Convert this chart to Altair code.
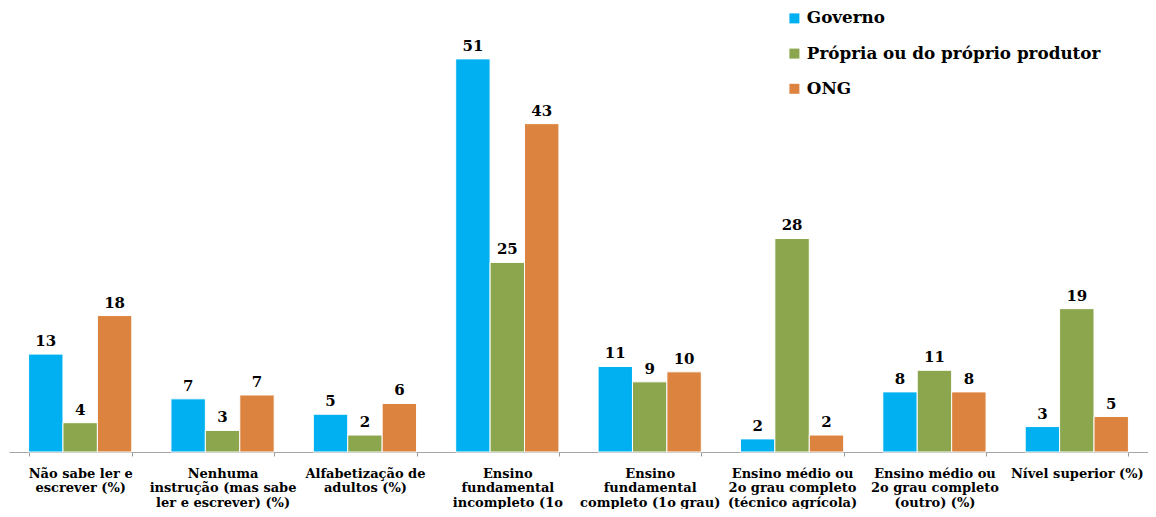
import altair as alt
import pandas as pd

categories = [
    "Não sabe ler e\nescrever (%)",
    "Nenhuma\ninstrução (mas sabe\nler e escrever) (%)",
    "Alfabetização de\nadultos (%)",
    "Ensino\nfundamental\nincompleto (1o\ngrau) (%)",
    "Ensino\nfundamental\ncompleto (1o grau)\n(%)",
    "Ensino médio ou\n2o grau completo\n(técnico  agrícola)\n(%)",
    "Ensino médio ou\n2o grau completo\n(outro)  (%)",
    "Nível superior (%)",
]
series = ["Governo", "Própria ou do próprio produtor", "ONG"]
governo = [12.7, 6.9, 4.9, 51.0, 11.1, 1.7, 7.8, 3.3]
propria = [3.8, 2.8, 2.2, 24.6, 9.1, 27.7, 10.6, 18.6]
ong = [17.7, 7.4, 6.3, 42.6, 10.4, 2.2, 7.8, 4.6]
colors = ["#00B0F0", "#8BA64D", "#DC843F"]

rows = []
for s, vals in zip(series, [governo, propria, ong]):
    for c, v in zip(categories, vals):
        rows.append({"categoria": c, "fonte": s, "valor": v})
df = pd.DataFrame(rows)

FONT = "DejaVu Serif"

base = alt.Chart(df).encode(
    x=alt.X(
        "categoria:N",
        sort=categories,
        scale=alt.Scale(paddingInner=0.275, paddingOuter=0.1375),
        axis=alt.Axis(
            title=None,
            labelAngle=0,
            labelExpr="split(datum.label, '\\n')",
            labelFont=FONT,
            labelFontWeight="bold",
            labelFontSize=13,
            labelLineHeight=14.5,
            labelColor="black",
            labelLimit=0,
            labelPadding=11,
            labelBaseline="top",
            tickBand="extent",
            tickSize=4,
            tickColor="#999999",
            domainColor="#a6a6a6",
            grid=False,
        ),
    ),
    xOffset=alt.XOffset("fonte:N", sort=series, scale=alt.Scale(paddingInner=0, paddingOuter=0)),
    y=alt.Y("valor:Q", scale=alt.Scale(domain=[0, 57.6], nice=False, zero=True), axis=None),
)

bars = base.mark_bar(stroke="white", strokeWidth=1).encode(
    color=alt.Color(
        "fonte:N",
        sort=series,
        scale=alt.Scale(domain=series, range=colors),
        legend=alt.Legend(
            title=None,
            orient="none",
            legendX=777,
            legendY=2,
            direction="vertical",
            symbolType="square",
            symbolSize=100,
            symbolStrokeWidth=0,
            labelFont=FONT,
            labelFontWeight="bold",
            labelFontSize=16.8,
            labelColor="black",
            labelOffset=4,
            labelLimit=0,
            rowPadding=17.2,
            padding=0,
        ),
    )
)

labels = base.mark_text(
    font=FONT, fontWeight="bold", fontSize=15, color="black",
    baseline="alphabetic", dy=-8,
).encode(text=alt.Text("valor:Q", format=".0f"))

chart = (
    alt.layer(bars, labels)
    .properties(
        width=1139,
        height=444,
        background="white",
        autosize=alt.AutoSizeParams(type="none"),
        padding={"left": 1, "top": 0, "right": 0, "bottom": 57},
    )
    .configure_view(strokeWidth=0, stroke="transparent")
)

chart.save("out.html", embed_options={"renderer": "svg", "actions": False})
